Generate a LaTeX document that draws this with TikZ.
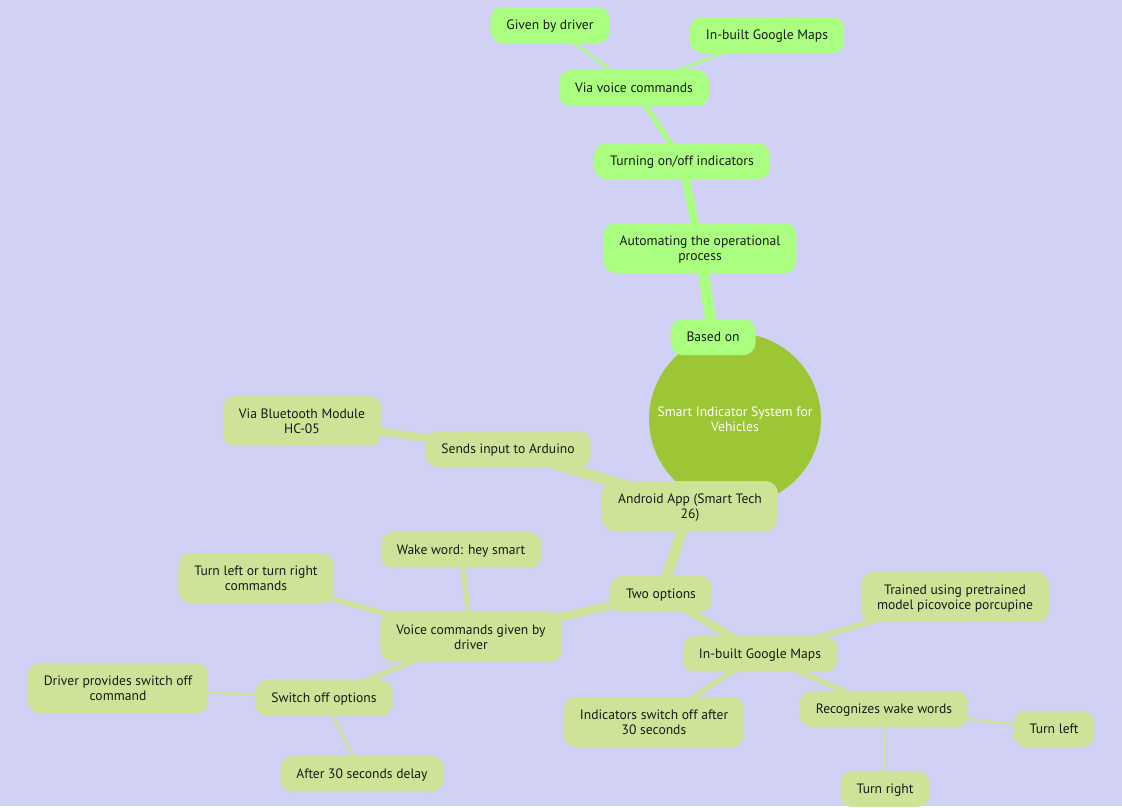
\documentclass[tikz,border=0pt]{standalone}
\usepackage{fontspec}
\setmainfont{PT Sans}
\usetikzlibrary{backgrounds}
\definecolor{bgcol}{HTML}{D1D1F5}
\definecolor{topcol}{HTML}{ABFF80}
\definecolor{botcol}{HTML}{CDE498}
\definecolor{rootcol}{HTML}{9DC637}
\begin{document}
\begin{tikzpicture}[x=1pt, y=-1pt,
	mm/.style={rounded corners=12pt, inner xsep=16pt, inner ysep=0pt, minimum height=36pt,
		align=center, text depth=0pt, text=black!90, font=\fontsize{13.6}{15}\selectfont},
	topn/.style={mm, fill=topcol},
	botn/.style={mm, fill=botcol},
	two/.style={minimum height=50pt},
	rootn/.style={circle, fill=rootcol, minimum size=172pt, inner sep=0pt, align=center,
		text=white, font=\fontsize{13.6}{15}\selectfont},
	e1/.style={line width=11pt},
	e2/.style={line width=8pt},
	e3/.style={line width=5pt},
	e4/.style={line width=2.5pt}
]

% root
\node[rootn] (root) at (735, 419) {Smart Indicator System for\\Vehicles};

% upper branch
\node[topn] (based) at (713, 337) {Based on};
\node[topn, two] (auto) at (700, 248) {Automating the operational\\process};
\node[topn] (turn) at (682, 161) {Turning on/off indicators};
\node[topn] (via) at (634, 88) {Via voice commands};
\node[topn] (given) at (550, 25) {Given by driver};
\node[topn] (gmaps1) at (767, 35) {In-built Google Maps};

% lower branch
\node[botn, two] (app) at (690, 506) {Android App (Smart Tech\\26)};
\node[botn] (sends) at (508, 449) {Sends input to Arduino};
\node[botn, two] (bt) at (302, 421) {Via Bluetooth Module\\HC-05};
\node[botn] (two) at (661, 594) {Two options};
\node[botn, two] (voice) at (471, 637) {Voice commands given by\\driver};
\node[botn] (wake) at (461, 550) {Wake word: hey smart};
\node[botn, two] (lr) at (256, 578) {Turn left or turn right\\commands};
\node[botn] (off) at (324, 698) {Switch off options};
\node[botn, two] (drv) at (118, 688) {Driver provides switch off\\command};
\node[botn] (delay) at (362, 774) {After 30 seconds delay};
\node[botn] (gmaps2) at (760, 654) {In-built Google Maps};
\node[botn, two] (pico) at (955, 597) {Trained using pretrained\\model picovoice porcupine};
\node[botn, two] (sw) at (654, 722) {Indicators switch off after\\30 seconds};
\node[botn] (rec) at (884, 709) {Recognizes wake words};
\node[botn] (tl) at (1054, 729) {Turn left};
\node[botn] (tr) at (885, 789) {Turn right};

\begin{scope}[on background layer]
	\fill[bgcol] (0, 0) rectangle (1122, 806);
	% upper edges
	\draw[topcol, e1] (root.center) -- (based.center);
	\draw[topcol, e1] (based.center) -- (auto.center);
	\draw[topcol, e2] (auto.center) -- (turn.center);
	\draw[topcol, e3] (turn.center) -- (via.center);
	\draw[topcol, e4] (via.center) -- (given.center);
	\draw[topcol, e4] (via.center) -- (gmaps1.center);
	% lower edges
	\draw[botcol, e1] (root.center) -- (app.center);
	\draw[botcol, e1] (app.center) -- (sends.center);
	\draw[botcol, e2] (sends.center) -- (bt.center);
	\draw[botcol, e1] (app.center) -- (two.center);
	\draw[botcol, e2] (two.center) -- (voice.center);
	\draw[botcol, e2] (two.center) -- (gmaps2.center);
	\draw[botcol, e3] (voice.center) -- (wake.center);
	\draw[botcol, e3] (voice.center) -- (lr.center);
	\draw[botcol, e3] (voice.center) -- (off.center);
	\draw[botcol, e4] (off.center) -- (drv.center);
	\draw[botcol, e4] (off.center) -- (delay.center);
	\draw[botcol, e3] (gmaps2.center) -- (pico.center);
	\draw[botcol, e3] (gmaps2.center) -- (sw.center);
	\draw[botcol, e3] (gmaps2.center) -- (rec.center);
	\draw[botcol, e4] (rec.center) -- (tl.center);
	\draw[botcol, e4] (rec.center) -- (tr.center);
\end{scope}

\useasboundingbox (0, 0) rectangle (1122, 806);
\end{tikzpicture}
\end{document}
